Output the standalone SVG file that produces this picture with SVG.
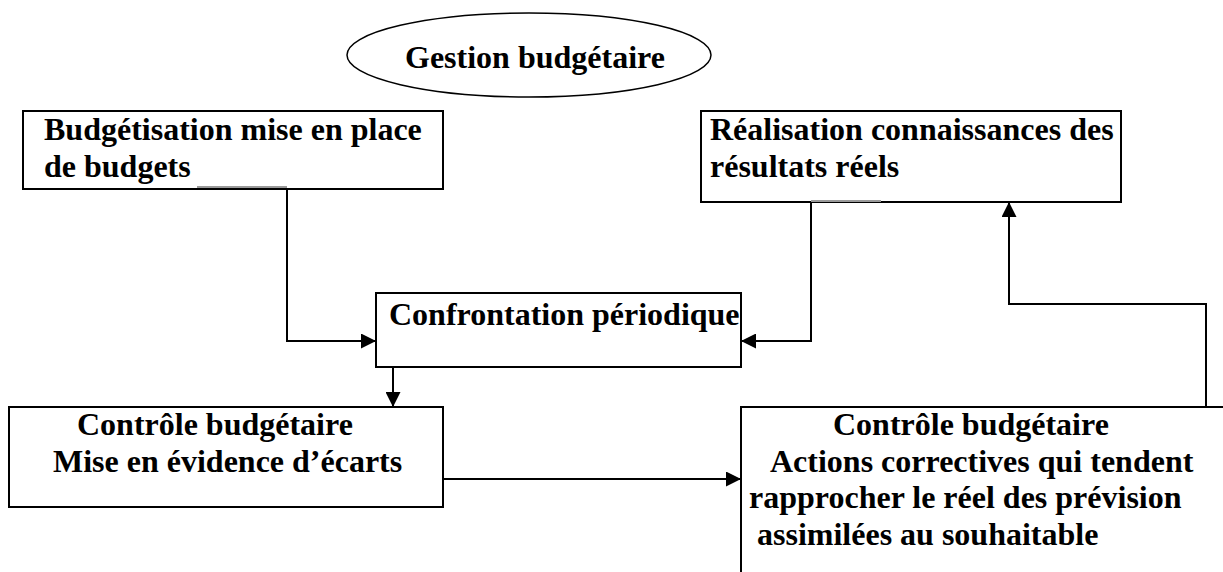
<svg xmlns="http://www.w3.org/2000/svg" width="1223" height="572" viewBox="0 0 1223 572">
  <style>
    .box { fill: #ffffff; stroke: #000000; stroke-width: 2; }
    .lbl { font-family: "Liberation Serif", "Times New Roman", serif; font-weight: bold; font-size: 32px; fill: #000000; }
    .wire { fill: none; stroke: #000000; stroke-width: 2; }
    .ghost { fill: none; stroke: #9a9a9a; stroke-width: 2; }
  </style>
  <defs>
    <marker id="arrow" viewBox="0 0 15 15" refX="15" refY="7.5" markerWidth="15" markerHeight="15" markerUnits="userSpaceOnUse" orient="auto">
      <path d="M0,0 L15,7.5 L0,15 Z" fill="#000000"/>
    </marker>
  </defs>
  <rect width="1223" height="572" fill="#ffffff"/>

  <!-- title -->
  <g id="title">
    <ellipse cx="529" cy="55" rx="182" ry="42" fill="#ffffff" stroke="#000000" stroke-width="1.5"/>
    <text class="lbl" x="405" y="68">Gestion budgétaire</text>
  </g>

  <!-- budget setting -->
  <g id="budgetisation">
    <rect class="box" x="23" y="111" width="420" height="78"/>
    <text class="lbl" x="44" y="140">Budgétisation mise en place</text>
    <text class="lbl" x="44" y="177">de budgets</text>
  </g>

  <!-- actual results -->
  <g id="realisation">
    <rect class="box" x="701" y="111" width="420" height="91"/>
    <text class="lbl" x="710" y="140">Réalisation connaissances des</text>
    <text class="lbl" x="710" y="177">résultats réels</text>
  </g>

  <!-- periodic comparison -->
  <g id="confrontation">
    <rect class="box" x="376" y="293" width="365" height="74"/>
    <text class="lbl" x="389" y="325">Confrontation périodique</text>
  </g>

  <!-- variance highlighting -->
  <g id="controle-ecarts">
    <rect class="box" x="9" y="407" width="434" height="100"/>
    <text class="lbl" x="77" y="435">Contrôle budgétaire</text>
    <text class="lbl" x="53" y="472">Mise en évidence d’écarts</text>
  </g>

  <!-- corrective actions (runs off the page) -->
  <g id="controle-actions">
    <rect class="box" x="741" y="407" width="600" height="300"/>
    <text class="lbl" x="833" y="435">Contrôle budgétaire</text>
    <text class="lbl" x="770" y="472">Actions correctives qui tendent</text>
    <text class="lbl" x="749" y="508">rapprocher le réel des prévision</text>
    <text class="lbl" x="757" y="545">assimilées au souhaitable</text>
  </g>

  <!-- connectors -->
  <g id="connectors">
    <line class="ghost" x1="197" y1="187" x2="287" y2="187"/>
    <line class="ghost" x1="811" y1="201" x2="881" y2="201"/>
    <polyline class="wire" points="287,189 287,341 376,341" marker-end="url(#arrow)"/>
    <polyline class="wire" points="811,202 811,341 741,341" marker-end="url(#arrow)"/>
    <line class="wire" x1="393" y1="367" x2="393" y2="407" marker-end="url(#arrow)"/>
    <line class="wire" x1="443" y1="479" x2="741" y2="479" marker-end="url(#arrow)"/>
    <polyline class="wire" points="1206,407 1206,304 1009,304 1009,202" marker-end="url(#arrow)"/>
  </g>
</svg>
